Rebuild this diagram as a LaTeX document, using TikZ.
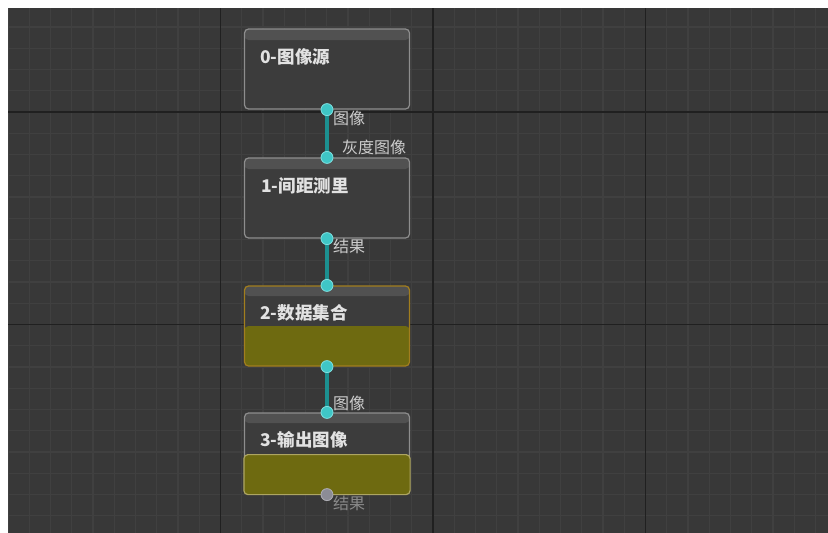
\documentclass[tikz,border=0pt]{standalone}
\usepackage{fontspec}
\newfontfamily\cjk{Noto Sans CJK SC}
\definecolor{bg}{HTML}{383838}
\definecolor{minorline}{HTML}{404040}
\definecolor{majorline}{HTML}{202020}
\definecolor{boxline}{HTML}{8E8E8E}
\definecolor{boxbody}{HTML}{3C3C3C}
\definecolor{boxstrip}{HTML}{515151}
\definecolor{olivefill}{HTML}{6E6A10}
\definecolor{oliveedge}{HTML}{ADA562}
\definecolor{orangeedge}{HTML}{A27E1E}
\definecolor{portcyan}{HTML}{3FC6C6}
\definecolor{portedge}{HTML}{7FE0E0}
\definecolor{portgray}{HTML}{8C8C96}
\definecolor{conncol}{HTML}{1C9090}
\definecolor{titlecol}{HTML}{E2E2E2}
\definecolor{labcol}{HTML}{CDCDCD}
\definecolor{dimcol}{HTML}{8A8A8A}
\begin{document}
\begin{tikzpicture}[x=1pt,y=-1pt,
  minor/.style={draw=minorline,line width=1.3pt},
  major/.style={draw=majorline,line width=1.6pt},
  box/.style={rectangle,rounded corners=4pt,minimum width=165pt,minimum height=80pt,
    line width=1.2pt,inner sep=0pt,fill=boxbody,
    path picture={\fill[boxstrip] (path picture bounding box.north west) rectangle ([yshift=-11pt]path picture bounding box.north east);}},
  plainbox/.style={box,draw=boxline},
  olivebox/.style={box,draw=orangeedge,
    path picture={\fill[boxstrip] (path picture bounding box.north west) rectangle ([yshift=-10pt]path picture bounding box.north east);
      \fill[olivefill] ([yshift=40pt]path picture bounding box.south west) rectangle (path picture bounding box.south east);}},
  title/.style={anchor=west,inner sep=0pt,text=titlecol,font=\cjk\bfseries\fontsize{17.5}{17.5}\selectfont},
  lab/.style={anchor=west,inner sep=0pt,text=labcol,font=\cjk\fontsize{16}{16}\selectfont},
  port/.style={circle,minimum size=12pt,inner sep=0pt,fill=portcyan,draw=portedge,line width=0.8pt},
  conn/.style={draw=conncol,line width=4pt}
]
\useasboundingbox (0,0) rectangle (828,533);
\fill[white] (0,0) rectangle (828,533);
\fill[bg] (8,8) rectangle (828,533);
\begin{scope}
\clip (8,8) rectangle (828,533);
\foreach \i in {0,...,39} \draw[minor] ({8+21.25*\i},8) -- ({8+21.25*\i},533);
\foreach \j in {0,...,25} \draw[minor] (8,{5.75+21.25*\j}) -- (828,{5.75+21.25*\j});
\foreach \i in {1,2,3} \draw[major] ({8+212.5*\i},8) -- ({8+212.5*\i},533);
\foreach \j in {0,1} \draw[major] (8,{112+212.5*\j}) -- (828,{112+212.5*\j});
\end{scope}
% nodes
\node[plainbox] (n0) at (327,69) {};
\node[plainbox] (n1) at (327,198) {};
\node[olivebox] (n2) at (327,326) {};
\node[box,draw=boxline,minimum height=81pt,
  path picture={\fill[boxstrip] (path picture bounding box.north west) rectangle ([yshift=-10pt]path picture bounding box.north east);}] (n3) at (327,453.5) {};
\draw[draw=oliveedge,fill=olivefill,line width=1.2pt,rounded corners=4pt]
  ([yshift=40pt]n3.south west) rectangle (n3.south east);
% titles
\node[title] (t0) at (260,57) {0-图像源};
\node[title] (t1) at (261,186) {1-间距测里};
\node[title] (t2) at (260,313) {2-数据集合};
\node[title] (t3) at (260,440) {3-输出图像};
% connectors
\draw[conn] (n0.south) -- (n1.north);
\draw[conn] (n1.south) -- (n2.north);
\draw[conn] (n2.south) -- (n3.north);
% ports
\node[port] (p0s) at (n0.south) {};
\node[port] (p1n) at (n1.north) {};
\node[port] (p1s) at (n1.south) {};
\node[port] (p2n) at (n2.north) {};
\node[port] (p2s) at (n2.south) {};
\node[port] (p3n) at (n3.north) {};
\node[port,fill=portgray,draw=portgray!70!white] (p3s) at (n3.south) {};
% port labels
\node[lab] (l0) at (333,118) {图像};
\node[lab] (l1) at (342,147.5) {灰度图像};
\node[lab] (l2) at (333,246) {结果};
\node[lab] (l3) at (333,403) {图像};
\node[lab,text=dimcol] (l4) at (333,503) {结果};
\end{tikzpicture}
\end{document}
